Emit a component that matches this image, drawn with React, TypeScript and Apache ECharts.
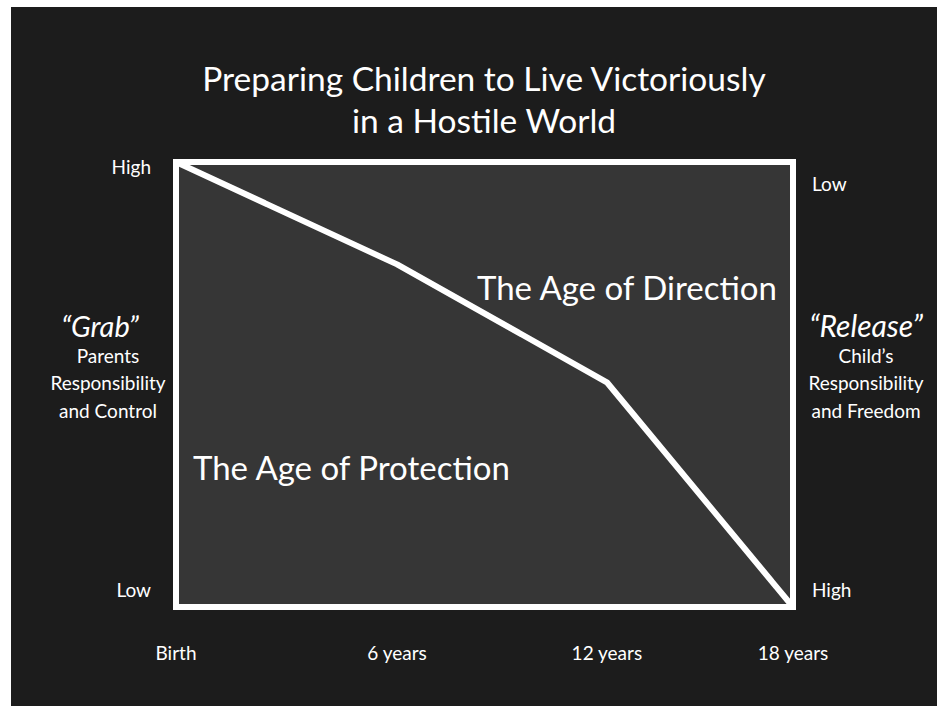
import React, { useEffect, useRef } from "react";
import * as echarts from "echarts";

const ageLabels = ["Birth", "6 years", "12 years", "18 years"];
const agePositions = [0, 6.45, 12.57, 18];
const controlLevel = [100, 77, 50.5, 0];
const leftTickValues = [4, 98.9];
const leftTickLabels = ["Low", "High"];
const rightTickValues = [4, 95.1];
const rightTickLabels = ["High", "Low"];
const titleLines = ["Preparing Children to Live Victoriously", "in a Hostile World"];
const leftNotes = ["Parents", "Responsibility", "and Control"];
const rightNotes = ["Child\u2019s", "Responsibility", "and Freedom"];

const OX = 11;
const OY = 7;
const FONT = "Lato, 'Open Sans', sans-serif";

export default function App() {
  const ref = useRef<HTMLDivElement>(null);
  useEffect(() => {
    if (!ref.current) return;
    const chart = echarts.init(ref.current, null, { renderer: "svg" });
    const txt = (x: number, y: number, text: string, size: number, align = "center", italic = false) => ({
      type: "text",
      x: x - OX,
      y: y - OY,
      style: {
        text,
        fill: "#ffffff",
        font: `${italic ? "italic " : ""}${size}px ${FONT}`,
        textAlign: align,
        textVerticalAlign: "middle",
      },
    });
    const graphics: any[] = [
      txt(484, 78, titleLines[0], 33.5),
      txt(484, 120, titleLines[1], 33.5),
      txt(477, 287, "The Age of Direction", 33, "left"),
      txt(193, 467, "The Age of Protection", 33, "left"),
      txt(100, 325, "\u201CGrab\u201D", 29, "center", true),
      txt(866, 325, "\u201CRelease\u201D", 30, "center", true),
    ];
    leftNotes.forEach((t, i) => graphics.push(txt(108, 355 + i * 27.5, t, 19)));
    rightNotes.forEach((t, i) => graphics.push(txt(866, 355 + i * 27.5, t, 19)));

    chart.setOption({
      animation: false,
      backgroundColor: "#1c1c1c",
      textStyle: { fontFamily: FONT },
      grid: {
        show: true,
        left: 165,
        top: 155,
        right: 144,
        bottom: 99,
        backgroundColor: "#363636",
        borderColor: "#ffffff",
        borderWidth: 6,
      },
      xAxis: {
        type: "value",
        min: 0,
        max: 18,
        splitLine: { show: false },
        axisLine: { show: false },
        axisTick: { show: false },
        axisLabel: {
          customValues: agePositions,
          color: "#ffffff",
          fontSize: 19,
          fontFamily: FONT,
          margin: 36,
          formatter: (v: number) => {
            const i = agePositions.indexOf(v);
            return i >= 0 ? ageLabels[i] : "";
          },
        },
      },
      yAxis: [
        {
          type: "value",
          min: 0,
          max: 100,
          position: "left",
          splitLine: { show: false },
          axisLine: { show: false },
          axisTick: { show: false },
          axisLabel: {
            customValues: leftTickValues,
            color: "#ffffff",
            fontSize: 19,
            fontFamily: FONT,
            margin: 25,
            formatter: (v: number) => {
              const i = leftTickValues.indexOf(v);
              return i >= 0 ? leftTickLabels[i] : "";
            },
          },
        },
        {
          type: "value",
          min: 0,
          max: 100,
          position: "right",
          splitLine: { show: false },
          axisLine: { show: false },
          axisTick: { show: false },
          axisLabel: {
            customValues: rightTickValues,
            color: "#ffffff",
            fontSize: 19,
            fontFamily: FONT,
            margin: 19,
            formatter: (v: number) => {
              const i = rightTickValues.indexOf(v);
              return i >= 0 ? rightTickLabels[i] : "";
            },
          },
        },
      ],
      series: [
        {
          type: "line",
          data: agePositions.map((x, i) => [x, controlLevel[i]]),
          symbol: "none",
          clip: false,
          lineStyle: { color: "#ffffff", width: 6 },
          z: 5,
        },
      ],
      graphic: graphics,
    });
    return () => chart.dispose();
  }, []);
  return (
    <div
      ref={ref}
      style={{ position: "fixed", left: OX, top: OY, width: 937 - OX, height: 706 - OY }}
    />
  );
}
